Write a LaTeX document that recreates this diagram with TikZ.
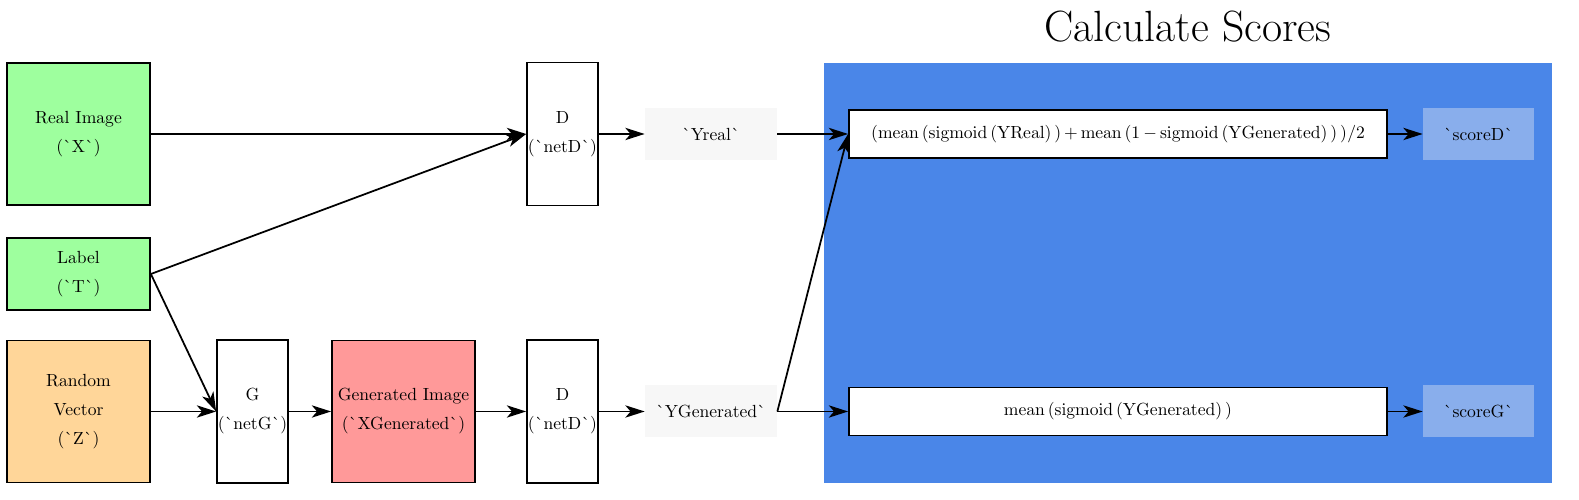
\documentclass[tikz,border=0pt]{standalone}
\usepackage{amsmath}
\usepackage{amssymb}
\usepackage{tikz}
\usetikzlibrary{arrows.meta}
\usetikzlibrary{positioning}
\definecolor{realgreen}{RGB}{158,255,158}
\definecolor{noiseorange}{RGB}{255,214,153}
\definecolor{fakered}{RGB}{255,153,153}
\definecolor{scoreblue}{RGB}{74,134,232}
\definecolor{scorelight}{RGB}{137,174,236}
\definecolor{outgray}{RGB}{247,247,247}
\newcommand{\gravemark}{\textasciigrave{}}
\tikzset{box/.style = {draw, line width = 1pt, align = center, inner sep = 0, font = \fontsize{10}{16.5}\selectfont}}
\tikzset{bigbox/.style = {box, minimum width = 2.86cm, minimum height = 2.84cm}}
\tikzset{netbox/.style = {box, fill = white, minimum width = 1.42cm, minimum height = 2.86cm}}
\tikzset{outbox/.style = {fill = outgray, inner sep = 0, minimum width = 2.64cm, minimum height = 1.04cm}}
\tikzset{formulabox/.style = {draw, fill = white, line width = 1pt, inner sep = 0, minimum width = 10.76cm, minimum height = 0.96cm}}
\tikzset{scorebox/.style = {fill = scorelight, inner sep = 0, minimum width = 2.22cm, minimum height = 1.04cm}}
\tikzset{flow/.style = {-{Stealth[length = 11pt, width = 7pt, inset = 3pt]}, line width = 1pt}}

\begin{document}
\begin{tikzpicture}
          \useasboundingbox (0, 0) rectangle (31.58, 10);
          \node [fill = scoreblue, inner sep = 0, minimum width = 14.56cm, minimum height = 8.4cm] (region) at (23.76, 4.54) {};
          \node [anchor = base] (title) at (23.76, 9.16) {\Huge Calculate Scores};

          \node [bigbox, fill = realgreen] (real) at (1.57, 7.32) {Real Image\\(\gravemark X\gravemark)};
          \node [box, fill = realgreen, minimum width = 2.86cm, minimum height = 1.44cm] (label) at (1.57, 4.52) {Label\\(\gravemark T\gravemark)};
          \node [bigbox, fill = noiseorange] (noise) at (1.57, 1.77) {Random\\Vector\\(\gravemark Z\gravemark)};
          \node [netbox] (netG) at (5.05, 1.77) {G\\(\gravemark netG\gravemark)};
          \node [bigbox, fill = fakered] (fake) at (8.07, 1.77) {Generated Image\\(\gravemark XGenerated\gravemark)};
          \node [netbox] (netDfake) at (11.25, 1.77) {D\\(\gravemark netD\gravemark)};
          \node [netbox] (netDreal) at (11.25, 7.32) {D\\(\gravemark netD\gravemark)};
          \node [outbox] (yreal) at (14.22, 7.32) {\gravemark Yreal\gravemark};
          \node [outbox] (yfake) at (14.22, 1.77) {\gravemark YGenerated\gravemark};
          \node [formulabox] (lossD) at (22.36, 7.32) {$(\mathrm{mean}\,(\mathrm{sigmoid}\,(\mathrm{YReal})\,)\,{+}\,\mathrm{mean}\,(1\,{-}\,\mathrm{sigmoid}\,(\mathrm{YGenerated})\,)\,)/2$};
          \node [formulabox] (lossG) at (22.36, 1.77) {$\mathrm{mean}\,(\mathrm{sigmoid}\,(\mathrm{YGenerated})\,)$};
          \node [scorebox] (scoreD) at (29.57, 7.32) {\gravemark scoreD\gravemark};
          \node [scorebox] (scoreG) at (29.57, 1.77) {\gravemark scoreG\gravemark};

          \draw [flow] (real.east) -- (netDreal.west);
          \draw [flow] (label.east) -- (netDreal.west);
          \draw [flow] (label.east) -- (netG.west);
          \draw [flow] (noise.east) -- (netG.west);
          \draw [flow] (netG.east) -- (fake.west);
          \draw [flow] (fake.east) -- (netDfake.west);
          \draw [flow] (netDreal.east) -- (yreal.west);
          \draw [flow] (netDfake.east) -- (yfake.west);
          \draw [flow] (yreal.east) -- (lossD.west);
          \draw [flow] (yfake.east) -- (lossD.west);
          \draw [flow] (yfake.east) -- (lossG.west);
          \draw [flow] (lossD.east) -- (scoreD.west);
          \draw [flow] (lossG.east) -- (scoreG.west);
        \end{tikzpicture}
\end{document}
